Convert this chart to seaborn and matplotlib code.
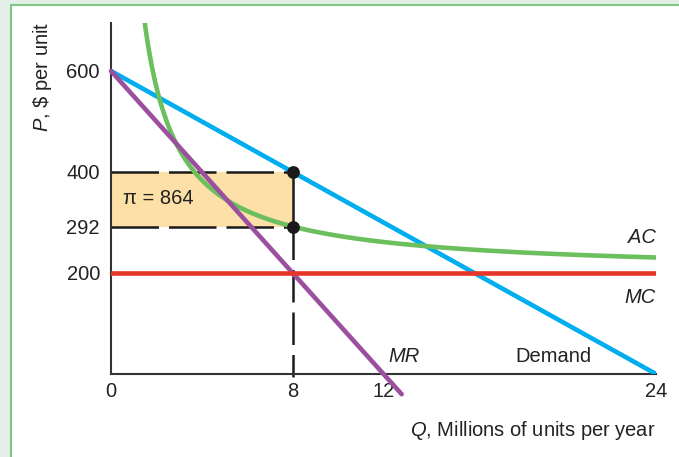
import numpy as np
import pandas as pd
import matplotlib
matplotlib.use("Agg")
import matplotlib.pyplot as plt
from matplotlib.patches import Rectangle
import seaborn as sns

sns.set_theme(style="white")
plt.rcParams['font.family'] = ['Liberation Sans', 'DejaVu Sans']
plt.rcParams['mathtext.fontset'] = 'custom'
plt.rcParams['mathtext.it'] = 'Liberation Sans:italic'
plt.rcParams['mathtext.rm'] = 'Liberation Sans'

# Market and cost values
demand_q = [0, 24]
demand_p = [600, 0]
mr_q = [0, 12.8]
mr_p = [600, -40]
mc_level = 200
fixed_cost = 736
q_star = 8
p_star = 400
ac_star = 292
profit = 864
x_ticks = [0, 8, 12, 24]
y_ticks = [200, 292, 400, 600]

BLUE = '#00aeef'
PURPLE = '#9b4f9f'
GREEN = '#6cbf5d'
RED = '#e8352a'
FILL = '#fde0a7'
INK = '#222222'
FS = 14.5

W, H = 679, 457
fig = plt.figure(figsize=(W / 100, H / 100), dpi=100)
fig.patch.set_facecolor('#e3efe7')
fig.patches.append(Rectangle((10.5 / W, -0.5), 2.0, 1.5 - 4.5 / H,
                             transform=fig.transFigure, facecolor='white',
                             edgecolor='#80c486', lw=1.5, zorder=-10))

ax = fig.add_axes([111 / W, 1 - 374 / H, (656 - 111) / W, (374 - 23) / H])
ax.set_facecolor('none')
ax.set_xlim(0, 24)
ax.set_ylim(0, 695)

# Profit rectangle
ax.fill_between([0, q_star], ac_star, p_star, color=FILL, lw=0, zorder=1)
ax.plot([0, q_star], [p_star, p_star], color='#1a1a1a', lw=1.8, dashes=(19, 4), zorder=2)
ax.plot([0, q_star], [ac_star, ac_star], color='#1a1a1a', lw=1.8, dashes=(19, 4), zorder=2)
ax.plot([q_star, q_star], [ac_star, p_star], color='#1a1a1a', lw=1.8, zorder=2)
ax.plot([q_star, q_star], [ac_star, -6], color='#1a1a1a', lw=1.8, dashes=(13, 4),
        zorder=2, clip_on=False)

# Demand, average cost, marginal revenue, marginal cost
sns.lineplot(x=demand_q, y=demand_p, color=BLUE, lw=3.3, ax=ax, zorder=3)
q_ac = np.linspace(1.2, 24, 500)
ac = mc_level + fixed_cost / q_ac
sns.lineplot(x=q_ac, y=ac, color=GREEN, lw=3.3, ax=ax, zorder=4)
sns.lineplot(x=mr_q, y=mr_p, color=PURPLE, lw=3.3, ax=ax, zorder=5, clip_on=False)
sns.lineplot(x=[0, 24], y=[mc_level, mc_level], color=RED, lw=3.3, ax=ax, zorder=6)

ax.scatter([q_star, q_star], [p_star, ac_star], s=85, color='#1a1a1a', zorder=7, lw=0)

ax.text(0.55, 348, f"\u03c0 = {profit}", fontsize=FS, ha='left', va='center', color=INK)
ax.text(24, 271, "AC", fontsize=FS, style='italic', ha='right', va='center', color=INK)
ax.text(24, 152, "MC", fontsize=FS, style='italic', ha='right', va='center', color=INK)
ax.text(12.9, 34, "MR", fontsize=FS, style='italic', ha='center', va='center', color=INK)
ax.text(19.5, 34, "Demand", fontsize=FS, ha='center', va='center', color=INK)

ax.set_xticks(x_ticks)
ax.set_xticklabels([str(v) for v in x_ticks])
ax.set_yticks(y_ticks)
ax.set_yticklabels([str(v) for v in y_ticks])
ax.tick_params(axis='both', length=0, labelsize=FS, colors=INK)
ax.tick_params(axis='y', pad=8)
ax.tick_params(axis='x', pad=6)
sns.despine(ax=ax)
for s in ('left', 'bottom'):
    ax.spines[s].set_color('#333333')
    ax.spines[s].set_linewidth(1.5)
ax.set_xlabel("")
ax.set_ylabel("")

fig.text(43 / W, 1 - 22 / H, r"$P$, \$ per unit", rotation=90, ha='center', va='top',
         fontsize=FS, color=INK)
fig.text(656 / W, 1 - 430 / H, r"$Q$, Millions of units per year", ha='right', va='center',
         fontsize=FS, color=INK)

fig.savefig("out.png", dpi=100, facecolor=fig.get_facecolor())
